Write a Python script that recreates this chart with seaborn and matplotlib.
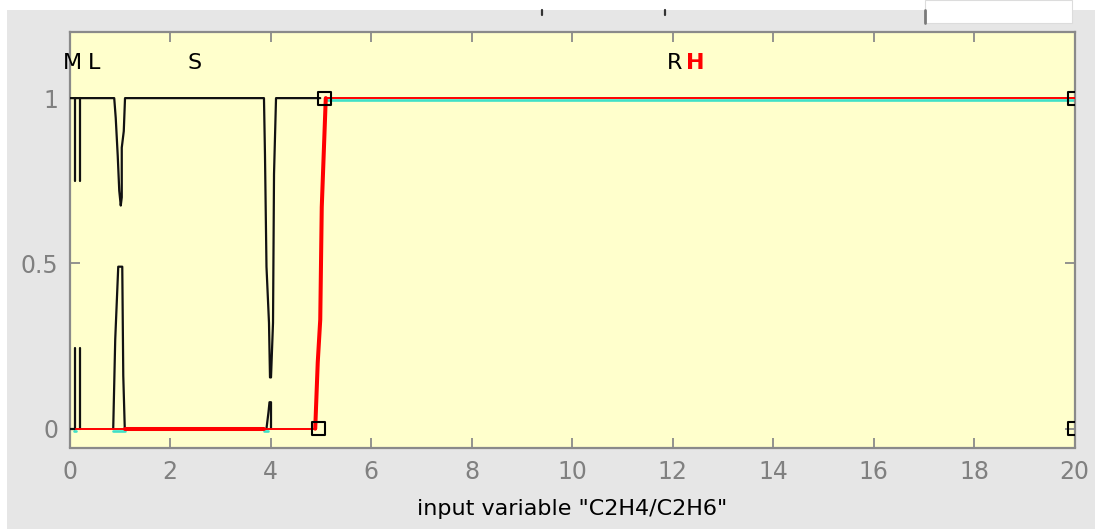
import numpy as np
import pandas as pd
import matplotlib
matplotlib.use("Agg")
import matplotlib.pyplot as plt
import matplotlib.transforms as mtransforms
from matplotlib.patches import Rectangle
from matplotlib.lines import Line2D
import seaborn as sns

# ---------------- data ----------------
x_ticks = [0, 2, 4, 6, 8, 10, 12, 14, 16, 18, 20]
y_ticks = [0, 0.5, 1]
y_tick_labels = ["0", "0.5", "1"]
x_label = 'input variable "C2H4/C2H6"'

mf_names = ["M", "L", "S", "R", "H"]
mf_label_x = [0.06, 0.48, 2.48, 12.04, 12.46]
mf_label_y = 1.105
mf_label_color = ["black", "black", "black", "black", "red"]
mf_label_weight = ["normal", "normal", "normal", "normal", "bold"]

# black membership-function traces (as rendered, with gaps)
blk_upper_x = [0.0, 0.89, 0.92, 0.96, 0.99, 1.02, 1.04, 1.04, 1.08, 1.105, 3.87, 3.89, 3.92, 3.97, 3.99,
               4.01, 4.05, 4.07, 4.11, 4.99]
blk_upper_y = [1.0, 1.0, 0.94, 0.825, 0.72, 0.675, 0.70, 0.85, 0.9, 1.0, 1.0, 0.83, 0.49, 0.32, 0.155,
               0.155, 0.32, 0.77, 1.0, 1.0]
blk_v1a_x = [0.10, 0.10]
blk_v1a_y = [1.0, 0.75]
blk_v1b_x = [0.0, 0.10, 0.10]
blk_v1b_y = [0.0, 0.0, 0.245]
blk_v2a_x = [0.20, 0.20]
blk_v2a_y = [1.0, 0.75]
blk_v2b_x = [0.20, 0.20]
blk_v2b_y = [0.245, 0.0]
blk_lam1_x = [0.87, 0.91, 0.97, 1.05, 1.07, 1.10]
blk_lam1_y = [0.0, 0.27, 0.49, 0.49, 0.16, 0.0]
blk_lam4_x = [3.92, 3.96, 3.98, 4.01, 4.01]
blk_lam4_y = [0.0, 0.05, 0.08, 0.08, 0.0]

# red (selected MF "H")
red_thin_x = [0.12, 4.90, np.nan, 5.08, 20.0]
red_thin_y = [0.0, 0.0, np.nan, 1.0, 1.0]
red_thick0_x = [1.10, 3.87]
red_thick0_y = [0.0, 0.0]
red_ramp_x = [4.89, 4.94, 4.99, 5.02, 5.10]
red_ramp_y = [0.0, 0.2, 0.33, 0.67, 1.0]

# cyan traces
cyan_x = [0.09, 0.12, np.nan, 0.87, 1.10, np.nan, 3.87, 3.95, np.nan, 5.08, 20.0]
cyan_y = [0.0, 0.0, np.nan, 0.0, 0.0, np.nan, 0.0, 0.0, np.nan, 1.0, 1.0]

# H parameters (vertex markers)
h_params_x = [4.95, 5.08, 20.0, 20.0]
h_params_y = [0.0, 1.0, 1.0, 0.0]


def segments_df(pairs):
    rows = []
    seg = 0
    for xs, ys in pairs:
        for xv, yv in zip(xs, ys):
            if np.isnan(xv):
                seg += 1
                continue
            rows.append((xv, yv, seg))
        seg += 1
    return pd.DataFrame(rows, columns=["x", "y", "seg"])


# ---------------- figure ----------------
sns.set_theme(style="white")
plt.rcParams["font.family"] = ["DejaVu Sans"]

W, H = 1095, 529
fig = plt.figure(figsize=(W / 100, H / 100), dpi=100)
fig.patch.set_facecolor("white")
fig.patches.append(Rectangle((7 / W, 0), 1, (H - 10) / H, transform=fig.transFigure,
                             facecolor="#e6e6e6", edgecolor="none", zorder=-10))
# top-right white widget box
fig.patches.append(Rectangle((925 / W, 1 - 23 / H), 147 / W, 23 / H, transform=fig.transFigure,
                             facecolor="white", edgecolor="#dcdcdc", lw=0.8, zorder=-5))
fig.lines.append(Line2D([925 / W, 925 / W], [1 - 10 / H, 1 - 23 / H], transform=fig.transFigure,
                        color="#7a7a7a", lw=2))
for px in (542, 665):
    fig.lines.append(Line2D([px / W, px / W], [1 - 10 / H, 1 - 15 / H], transform=fig.transFigure,
                            color="#333333", lw=1.6))

ax = fig.add_axes([69.5 / W, (H - 447.5) / H, 1005 / W, (447.5 - 32) / H])
ax.set_facecolor("#ffffcc")

# black traces
blk = segments_df([(blk_upper_x, blk_upper_y), (blk_v1a_x, blk_v1a_y), (blk_v1b_x, blk_v1b_y),
                   (blk_v2a_x, blk_v2a_y), (blk_v2b_x, blk_v2b_y), (blk_lam1_x, blk_lam1_y),
                   (blk_lam4_x, blk_lam4_y)])
sns.lineplot(data=blk, x="x", y="y", units="seg", estimator=None, sort=False, color="#111111",
             lw=1.6, ax=ax, legend=False, zorder=3)

# cyan traces (drawn slightly below)
cy = segments_df([(cyan_x, cyan_y)])
off_dn = mtransforms.ScaledTranslation(0, -2 / 100, fig.dpi_scale_trans)
sns.lineplot(data=cy, x="x", y="y", units="seg", estimator=None, sort=False, color="#3fe0c8",
             lw=1.9, ax=ax, legend=False, zorder=2)
for ln in ax.lines[-len(cy["seg"].unique()):]:
    ln.set_transform(ax.transData + off_dn)

# red traces
rt = segments_df([(red_thin_x, red_thin_y)])
sns.lineplot(data=rt, x="x", y="y", units="seg", estimator=None, sort=False, color="#ff0000",
             lw=1.4, ax=ax, legend=False, zorder=4)
rk = segments_df([(red_thick0_x, red_thick0_y), (red_ramp_x, red_ramp_y)])
sns.lineplot(data=rk, x="x", y="y", units="seg", estimator=None, sort=False, color="#ff0000",
             lw=2.9, ax=ax, legend=False, zorder=4)

# vertex markers
sns.scatterplot(x=h_params_x, y=h_params_y, marker="s", s=85, facecolor="none",
                edgecolor="black", linewidth=1.5, ax=ax, zorder=6, legend=False)

# MF labels
for name, lx, c, w in zip(mf_names, mf_label_x, mf_label_color, mf_label_weight):
    ax.text(lx, mf_label_y, name, ha="center", va="center", fontsize=16, color=c, fontweight=w)

ax.set_xlim(0, 20)
ax.set_ylim(-0.057, 1.2)
ax.set_xticks(x_ticks)
ax.set_xticklabels([str(t) for t in x_ticks])
ax.set_yticks(y_ticks)
ax.set_yticklabels(y_tick_labels)
ax.tick_params(axis="both", which="both", direction="in", length=7, width=1.3, color="#8a8a8a",
               labelcolor="#808080", labelsize=17, top=True, right=True, bottom=True, left=True)
ax.tick_params(axis="x", pad=9)
ax.tick_params(axis="y", pad=8)
for sp in ax.spines.values():
    sp.set_color("#8a8a8a")
    sp.set_linewidth(1.6)
    sp.set_visible(True)
ax.set_xlabel(x_label, fontsize=16, color="black", labelpad=11)
ax.set_ylabel("")

fig.savefig("out.png", dpi=100)
